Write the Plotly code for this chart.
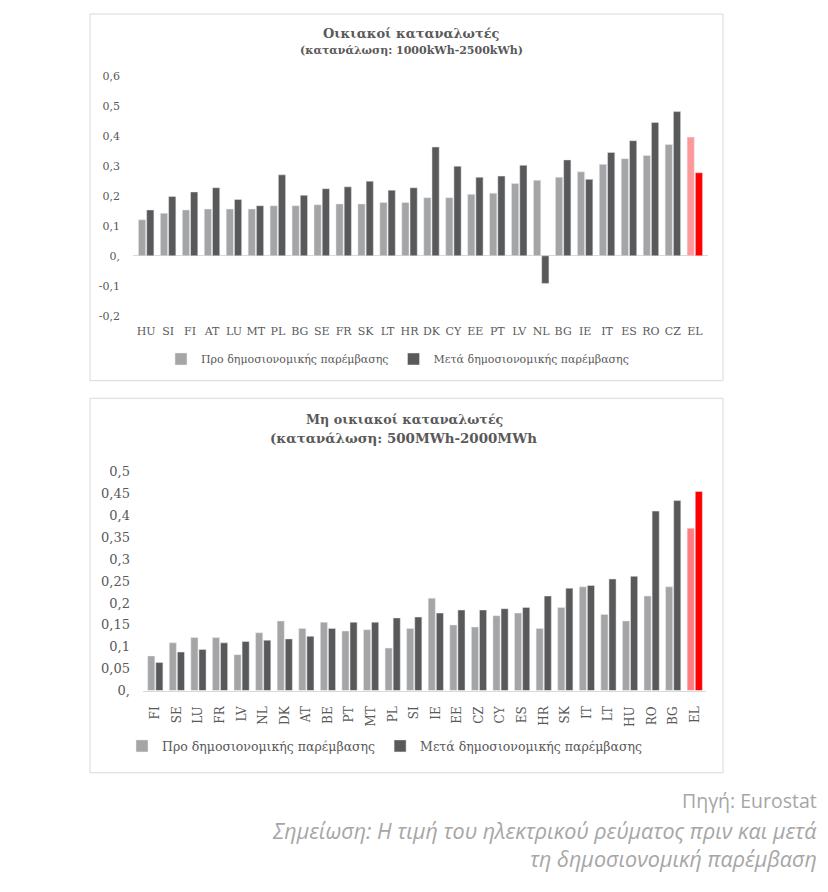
import plotly.graph_objects as go

# ---------------- data ----------------
top_countries = ["HU", "SI", "FI", "AT", "LU", "MT", "PL", "BG", "SE", "FR", "SK", "LT", "HR",
                 "DK", "CY", "EE", "PT", "LV", "NL", "BG", "IE", "IT", "ES", "RO", "CZ", "EL"]
top_pre = [0.120, 0.142, 0.153, 0.156, 0.156, 0.156, 0.167, 0.167, 0.170, 0.173, 0.173, 0.178, 0.178,
           0.194, 0.194, 0.205, 0.209, 0.241, 0.252, 0.262, 0.280, 0.305, 0.324, 0.335, 0.371, 0.396]
top_post = [0.153, 0.198, 0.213, 0.227, 0.188, 0.167, 0.270, 0.202, 0.224, 0.230, 0.249, 0.219, 0.227,
            0.363, 0.299, 0.262, 0.266, 0.302, -0.092, 0.320, 0.255, 0.345, 0.384, 0.445, 0.481, 0.277]

bot_countries = ["FI", "SE", "LU", "FR", "LV", "NL", "DK", "AT", "BE", "PT", "MT", "PL", "SI",
                 "IE", "EE", "CZ", "CY", "ES", "HR", "SK", "IT", "LT", "HU", "RO", "BG", "EL"]
bot_pre = [0.079, 0.109, 0.121, 0.121, 0.082, 0.132, 0.159, 0.142, 0.156, 0.136, 0.139, 0.097, 0.142,
           0.211, 0.150, 0.145, 0.171, 0.177, 0.142, 0.190, 0.237, 0.174, 0.159, 0.216, 0.237, 0.371]
bot_post = [0.064, 0.088, 0.094, 0.109, 0.112, 0.115, 0.118, 0.124, 0.142, 0.156, 0.156, 0.166, 0.168,
            0.177, 0.184, 0.184, 0.187, 0.190, 0.216, 0.234, 0.240, 0.255, 0.261, 0.410, 0.434, 0.455]

top_yticks = [-0.2, -0.1, 0, 0.1, 0.2, 0.3, 0.4, 0.5, 0.6]
top_yticktext = ["-0,2", "-0,1", "0,", "0,1", "0,2", "0,3", "0,4", "0,5", "0,6"]
bot_yticks = [0, 0.05, 0.1, 0.15, 0.2, 0.25, 0.3, 0.35, 0.4, 0.45, 0.5]
bot_yticktext = ["0,", "0,05", "0,1", "0,15", "0,2", "0,25", "0,3", "0,35", "0,4", "0,45", "0,5"]

name_pre = "Προ δημοσιονομικής παρέμβασης"
name_post = "Μετά δημοσιονομικής παρέμβασης"

# ---------------- styling ----------------
OFF = 8  # default body margin of the html page (all four sides)
W, H = 828 - 2 * OFF, 892 - 2 * OFF
GRAY_PRE = "#a5a5a5"
GRAY_POST = "#595959"
SERIF = "DejaVu Serif"
SANS = "Open Sans"
TXT = "#595959"
FOOT = "#a6a6a6"


def px_x(p):
    return (p - OFF) / W


def px_y(p):
    return 1 - (p - OFF) / H


def colors(n, base, el_color):
    return [base] * (n - 1) + [el_color]


top_x = list(range(len(top_countries)))
bot_x = list(range(len(bot_countries)))

fig = go.Figure()

fig.add_trace(go.Bar(x=top_x, y=top_pre, name=name_pre, xaxis="x", yaxis="y",
                     marker=dict(color=colors(len(top_x), GRAY_PRE, "#ff9999")), legend="legend"))
fig.add_trace(go.Bar(x=top_x, y=top_post, name=name_post, xaxis="x", yaxis="y",
                     marker=dict(color=colors(len(top_x), GRAY_POST, "#ff0000")), legend="legend"))
fig.add_trace(go.Bar(x=bot_x, y=bot_pre, name=name_pre, xaxis="x2", yaxis="y2",
                     marker=dict(color=colors(len(bot_x), GRAY_PRE, "#ff7c80")), legend="legend2"))
fig.add_trace(go.Bar(x=bot_x, y=bot_post, name=name_post, xaxis="x2", yaxis="y2",
                     marker=dict(color=colors(len(bot_x), GRAY_POST, "#ff0000")), legend="legend2"))

shapes = [
    dict(type="rect", xref="paper", yref="paper", x0=px_x(90), x1=px_x(723), y0=px_y(7), y1=px_y(380),
         line=dict(color="#d9d9d9", width=1), fillcolor="rgba(0,0,0,0)", layer="below"),
    dict(type="rect", xref="paper", yref="paper", x0=px_x(90), x1=px_x(723), y0=px_y(398), y1=px_y(779),
         line=dict(color="#d9d9d9", width=1), fillcolor="rgba(0,0,0,0)", layer="below"),
]

annotations = [
    dict(text="<b>Οικιακοί καταναλωτές</b>", x=px_x(411), y=px_y(27), xref="paper", yref="paper",
         showarrow=False, font=dict(family=SERIF, size=13, color=TXT), xanchor="center", yanchor="middle"),
    dict(text="<b>(κατανάλωση: 1000kWh-2500kWh)</b>", x=px_x(411), y=px_y(44), xref="paper", yref="paper",
         showarrow=False, font=dict(family=SERIF, size=11, color=TXT), xanchor="center", yanchor="middle"),
    dict(text="<b>Μη οικιακοί καταναλωτές</b>", x=px_x(405), y=px_y(420), xref="paper", yref="paper",
         showarrow=False, font=dict(family=SERIF, size=12.7, color=TXT), xanchor="center", yanchor="middle"),
    dict(text="<b>(κατανάλωση: 500MWh-2000MWh</b>", x=px_x(403), y=px_y(438), xref="paper", yref="paper",
         showarrow=False, font=dict(family=SERIF, size=13.4, color=TXT), xanchor="center", yanchor="middle"),
    dict(text="Πηγή: Eurostat", x=px_x(819), y=px_y(807), xref="paper", yref="paper",
         showarrow=False, font=dict(family=SANS, size=19.5, color=FOOT),
         xanchor="right", yanchor="middle"),
    dict(text="<i>Σημείωση: Η τιμή του ηλεκτρικού ρεύματος πριν και μετά</i>", x=px_x(819), y=px_y(838),
         xref="paper", yref="paper", showarrow=False,
         font=dict(family=SANS, size=21.5, color=FOOT), xanchor="right", yanchor="middle"),
    dict(text="<i>τη δημοσιονομική παρέμβαση</i>", x=px_x(819), y=px_y(866),
         xref="paper", yref="paper", showarrow=False,
         font=dict(family=SANS, size=21.5, color=FOOT), xanchor="right", yanchor="middle"),
]

fig.update_layout(
    width=W, height=H,
    margin=dict(l=0, r=0, t=0, b=0),
    paper_bgcolor="white", plot_bgcolor="white",
    barmode="group", bargap=0.25, bargroupgap=0.12,
    showlegend=True,
    shapes=shapes,
    annotations=annotations,
    font=dict(family=SERIF, color=TXT),
    xaxis=dict(domain=[px_x(133), px_x(708)], range=[-0.6, 25.6], tickmode="array",
               tickvals=top_x, ticktext=top_countries, showgrid=False, zeroline=False, showline=False,
               ticks="", ticklabelstandoff=7, tickfont=dict(family=SERIF, size=11, color=TXT),
               anchor="y", fixedrange=True),
    yaxis=dict(domain=[px_y(314), px_y(70)], range=[-0.2, 0.6], tickmode="array",
               tickvals=top_yticks, ticktext=top_yticktext, showgrid=False, zeroline=True,
               zerolinecolor="#d9d9d9", zerolinewidth=1, showline=False, ticks="",
               ticklabelstandoff=12, tickfont=dict(family=SERIF, size=11, color=TXT),
               anchor="x", fixedrange=True),
    xaxis2=dict(domain=[px_x(143), px_x(706)], range=[-0.57, 25.52], tickmode="array",
                tickvals=bot_x, ticktext=bot_countries, tickangle=-90, showgrid=False, zeroline=False,
                showline=True, linecolor="#d9d9d9", linewidth=1, ticks="", ticklabelstandoff=10,
                tickfont=dict(family=SERIF, size=12, color=TXT), anchor="y2", fixedrange=True),
    yaxis2=dict(domain=[px_y(695.3), px_y(472.7)], range=[0, 0.5], tickmode="array",
                tickvals=bot_yticks, ticktext=bot_yticktext, showgrid=False, zeroline=False,
                showline=False, ticks="", ticklabelstandoff=12,
                tickfont=dict(family=SERIF, size=13, color=TXT), anchor="x2", fixedrange=True),
    legend=dict(orientation="h", x=px_x(161), y=px_y(358), xanchor="left", yanchor="middle",
                font=dict(family=SERIF, size=11, color=TXT), bgcolor="rgba(0,0,0,0)",
                traceorder="normal", itemclick=False, itemdoubleclick=False),
    legend2=dict(orientation="h", x=px_x(122), y=px_y(752), xanchor="left", yanchor="middle",
                 font=dict(family=SERIF, size=12.5, color=TXT), bgcolor="rgba(0,0,0,0)",
                 traceorder="normal", itemclick=False, itemdoubleclick=False),
)

fig.write_html("out.html")
